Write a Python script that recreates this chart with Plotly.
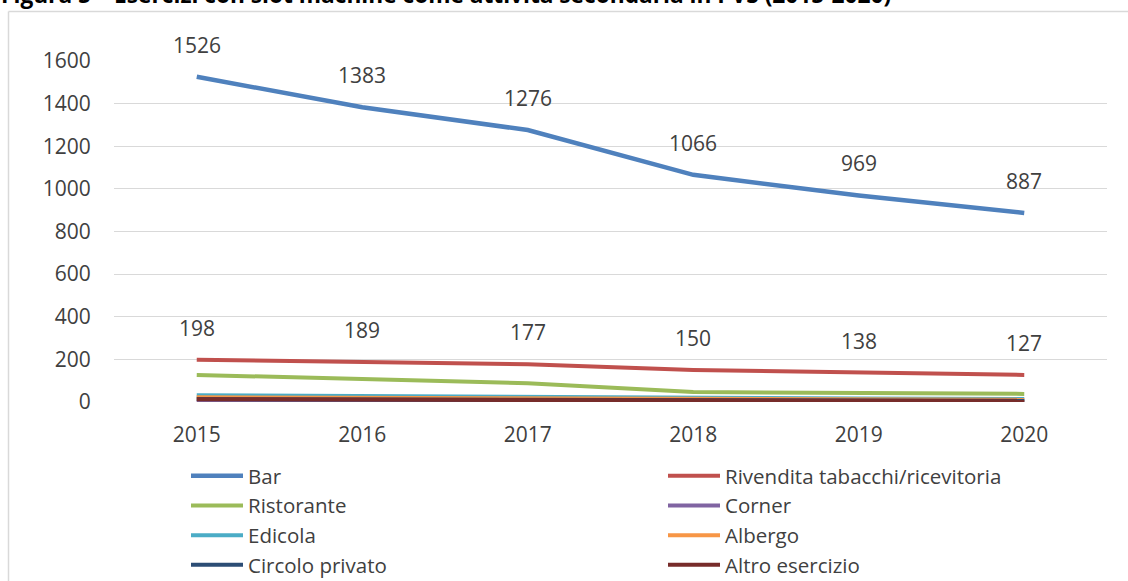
import plotly.graph_objects as go

years = ["2015", "2016", "2017", "2018", "2019", "2020"]
series_names = ["Bar", "Rivendita tabacchi/ricevitoria", "Ristorante", "Corner",
                "Edicola", "Albergo", "Circolo privato", "Altro esercizio"]
bar = [1526, 1383, 1276, 1066, 969, 887]
rivendita = [198, 189, 177, 150, 138, 127]
ristorante = [127, 106, 88, 47, 43, 38]
corner = [2, 2, 3, 9, 8, 7]
edicola = [32, 27, 22, 18, 16, 14]
albergo = [22, 20, 17, 14, 12, 11]
circolo = [14, 12, 10, 8, 7, 6]
altro = [13, 11, 9, 6, 5, 4]
values = [bar, rivendita, ristorante, corner, edicola, albergo, circolo, altro]
colors = ["#4F81BD", "#C0504D", "#9BBB59", "#8064A2",
          "#4BACC6", "#F79646", "#2C4D75", "#772C2A"]
labeled = ["Bar", "Rivendita tabacchi/ricevitoria"]
y_ticks = [0, 200, 400, 600, 800, 1000, 1200, 1400, 1600]
title_text = "Figura 5 – Esercizi con slot machine come attività secondaria in PVS (2015-2020)"

FONT = "Open Sans, Liberation Sans, sans-serif"
TXT = "#404040"

fig = go.Figure()
for idx, (name, vals, col) in enumerate(zip(series_names, values, colors)):
    fig.add_trace(go.Scatter(
        x=years, y=vals, name=name, mode="lines",
        line=dict(color=col, width=4.5 if name == "Bar" else 4),
        hoverinfo="skip",
        legend="legend" if idx % 2 == 0 else "legend2",
    ))

annotations = []
for name, vals in zip(series_names, values):
    if name in labeled:
        for i, v in enumerate(vals):
            annotations.append(dict(
                x=i, y=v, xref="x", yref="y", text=str(v), showarrow=False,
                yshift=32, font=dict(family=FONT, size=21, color=TXT)))

W, H = 1128, 581
L, R, T, B = 114, 21, 61, 179
pw, ph = W - L - R, H - T - B

def px_x(p):
    return (p - L) / pw

def px_y(p):
    return 1 - (p - T) / ph

annotations.append(dict(
    x=px_x(-1), y=px_y(-5), xref="paper", yref="paper", xanchor="left", yanchor="middle",
    text="<b>" + title_text + "</b>", showarrow=False,
    font=dict(family=FONT, size=22.7, color="#000000")))

leg_common = dict(
    orientation="v", xanchor="left", yanchor="top",
    font=dict(family=FONT, size=20.5, color=TXT),
    itemwidth=52, bgcolor="rgba(0,0,0,0)", tracegroupgap=0,
)

border = dict(color="#D9D9D9", width=1.5)
fig.update_layout(
    width=W, height=H,
    margin=dict(l=L, r=R, t=T, b=B, autoexpand=False),
    paper_bgcolor="white", plot_bgcolor="white",
    font=dict(family=FONT, color=TXT),
    showlegend=True,
    legend=dict(x=px_x(186), y=px_y(456), **leg_common),
    legend2=dict(x=px_x(663), y=px_y(456), **leg_common),
    xaxis=dict(
        type="category", range=[-0.5, 5.5], showgrid=False, zeroline=False,
        showline=False, ticks="outside", ticklen=14, tickcolor="rgba(0,0,0,0)",
        tickfont=dict(family=FONT, size=21, color=TXT),
    ),
    yaxis=dict(
        range=[0, 1600], tickvals=y_ticks, showgrid=True, gridcolor="#D9D9D9",
        gridwidth=1, zeroline=False, showline=False, ticks="outside", ticklen=18,
        tickcolor="rgba(0,0,0,0)", tickfont=dict(family=FONT, size=21, color=TXT),
    ),
    annotations=annotations,
    shapes=[
        dict(type="line", xref="paper", yref="paper",
             x0=px_x(8.5), x1=px_x(8.5), y0=px_y(581), y1=px_y(11.5), line=border),
        dict(type="line", xref="paper", yref="paper",
             x0=px_x(8.5), x1=px_x(1128), y0=px_y(11.5), y1=px_y(11.5), line=border),
    ],
)

fig.write_html("out.html", config={"displayModeBar": False},
               post_script="document.body.style.margin='0px';")
